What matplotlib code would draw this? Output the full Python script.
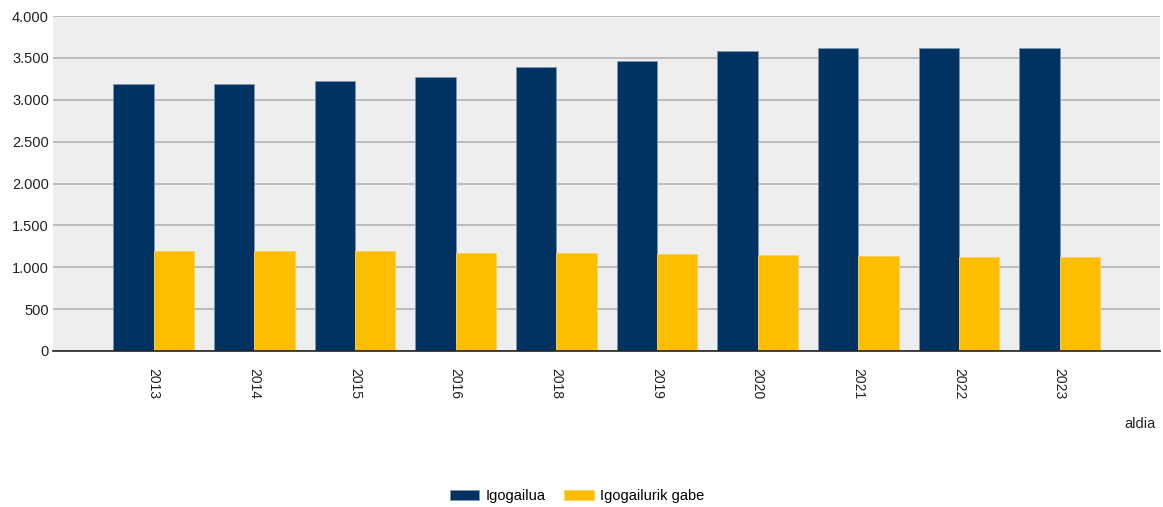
import matplotlib
matplotlib.use("Agg")
import matplotlib.pyplot as plt
import matplotlib.ticker as ticker
import numpy as np

plt.rcParams['font.family'] = ['Liberation Sans', 'DejaVu Sans']

# Data
years = ['2013', '2014', '2015', '2016', '2018', '2019', '2020', '2021', '2022', '2023']
igogailua = [3190, 3190, 3222, 3270, 3390, 3460, 3583, 3619, 3619, 3619]
igogailurik_gabe = [1190, 1190, 1190, 1175, 1165, 1160, 1145, 1140, 1127, 1127]

blue = '#003262'
yellow = '#FDBD00'

fig = plt.figure(figsize=(11.63, 5.07), dpi=100)
ax = fig.add_axes([0.0456, 0.3077, 0.952, 0.6607])
ax.set_facecolor('#EEEEEE')

x = np.arange(1, len(years) + 1)
w = 0.4
ax.bar(x - w / 2, igogailua, width=w, color=blue, edgecolor='#7f97b0', linewidth=0.6,
       label='Igogailua', zorder=3)
ax.bar(x + w / 2, igogailurik_gabe, width=w, color=yellow, edgecolor='#fdd060', linewidth=0.6,
       label='Igogailurik gabe', zorder=3)

ax.set_xlim(0, len(years) + 1)
ax.set_ylim(0, 4000)
ax.yaxis.set_major_locator(ticker.MultipleLocator(500))

def thousands(v, pos):
    return f'{int(v):,}'.replace(',', '.')

ax.yaxis.set_major_formatter(ticker.FuncFormatter(thousands))
ax.grid(axis='y', color='#B4B4B4', linewidth=1.2, zorder=1)

ax.set_xticks(x)
ax.set_xticklabels(years, rotation=-90, fontsize=10, color='#222222')
ax.tick_params(axis='x', length=0, pad=12)
ax.tick_params(axis='y', length=0, pad=3, labelsize=10.5, labelcolor='#222222')

for s in ['top', 'right', 'left']:
    ax.spines[s].set_visible(False)
ax.spines['bottom'].set_color('#222222')
ax.spines['bottom'].set_linewidth(1.2)
ax.spines['bottom'].set_zorder(4)

fig.text(0.994, 0.163, 'aldia', ha='right', va='center', fontsize=10.5, color='#222222')

fig.legend(loc='center', bbox_to_anchor=(0.496, 0.022), ncol=2, frameon=False,
           fontsize=10.5, handlelength=2.05, handleheight=0.7, columnspacing=1.3,
           handletextpad=0.4)

fig.savefig('out.png', dpi=100)
